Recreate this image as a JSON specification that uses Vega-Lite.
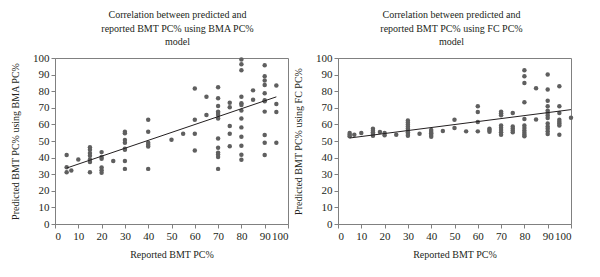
{
  "$schema": "https://vega.github.io/schema/vega-lite/v6.json",
  "padding": {"left": 9, "top": 9, "right": 5, "bottom": 5},
  "bounds": "flush",
  "spacing": 50,
  "config": {
    "font": "Liberation Serif",
    "view": {"stroke": "#808080", "strokeWidth": 1},
    "axis": {
      "grid": false,
      "labelOverlap": false,
      "domainColor": "#808080",
      "tickColor": "#808080",
      "tickSize": 4,
      "labelFont": "Liberation Serif",
      "labelFontSize": 11,
      "labelColor": "#231f20",
      "labelPadding": 2,
      "titleFont": "Liberation Serif",
      "titleFontSize": 10,
      "titleFontWeight": "normal",
      "titleColor": "#231f20"
    },
    "title": {"font": "Liberation Serif", "fontSize": 10, "fontWeight": "normal", "color": "#231f20", "lineHeight": 13.5, "offset": 5}
  },
  "datasets": {
    "bma": [
      {"reported": 5, "predicted": 41.5}, {"reported": 5, "predicted": 34.2}, {"reported": 5, "predicted": 31.2}, {"reported": 7, "predicted": 32.2},
      {"reported": 10, "predicted": 38.9},
      {"reported": 15, "predicted": 46.3}, {"reported": 15, "predicted": 44.7}, {"reported": 15, "predicted": 42.7}, {"reported": 15, "predicted": 41.1}, {"reported": 15, "predicted": 38.9}, {"reported": 15, "predicted": 37.3}, {"reported": 15, "predicted": 31.2},
      {"reported": 20, "predicted": 43.3}, {"reported": 20, "predicted": 40.3}, {"reported": 20, "predicted": 39.3}, {"reported": 20, "predicted": 34.0}, {"reported": 20, "predicted": 32.4}, {"reported": 20, "predicted": 30.8},
      {"reported": 25, "predicted": 37.9},
      {"reported": 30, "predicted": 55.6}, {"reported": 30, "predicted": 54.6}, {"reported": 30, "predicted": 50.6}, {"reported": 30, "predicted": 48.9}, {"reported": 30, "predicted": 45.3}, {"reported": 30, "predicted": 44.7}, {"reported": 30, "predicted": 37.9}, {"reported": 30, "predicted": 33.2},
      {"reported": 40, "predicted": 62.8}, {"reported": 40, "predicted": 55.6}, {"reported": 40, "predicted": 48.9}, {"reported": 40, "predicted": 47.7}, {"reported": 40, "predicted": 46.7}, {"reported": 40, "predicted": 33.2},
      {"reported": 50, "predicted": 50.8},
      {"reported": 55, "predicted": 54.4},
      {"reported": 60, "predicted": 81.6}, {"reported": 60, "predicted": 62.8}, {"reported": 60, "predicted": 54.4}, {"reported": 60, "predicted": 44.3},
      {"reported": 65, "predicted": 76.7}, {"reported": 65, "predicted": 65.7},
      {"reported": 70, "predicted": 82.4}, {"reported": 70, "predicted": 75.7}, {"reported": 70, "predicted": 71.1}, {"reported": 70, "predicted": 67.7}, {"reported": 70, "predicted": 66.9}, {"reported": 70, "predicted": 65.7}, {"reported": 70, "predicted": 63.6}, {"reported": 70, "predicted": 51.5}, {"reported": 70, "predicted": 45.9}, {"reported": 70, "predicted": 43.0}, {"reported": 70, "predicted": 41.8}, {"reported": 70, "predicted": 40.3}, {"reported": 70, "predicted": 33.2},
      {"reported": 75, "predicted": 73.1}, {"reported": 75, "predicted": 70.3}, {"reported": 75, "predicted": 59.0}, {"reported": 75, "predicted": 54.4}, {"reported": 75, "predicted": 46.9},
      {"reported": 80, "predicted": 99.1}, {"reported": 80, "predicted": 96.3}, {"reported": 80, "predicted": 92.6}, {"reported": 80, "predicted": 76.7}, {"reported": 80, "predicted": 72.7}, {"reported": 80, "predicted": 71.7}, {"reported": 80, "predicted": 68.3}, {"reported": 80, "predicted": 63.6}, {"reported": 80, "predicted": 58.2}, {"reported": 80, "predicted": 52.6}, {"reported": 80, "predicted": 47.1}, {"reported": 80, "predicted": 41.7}, {"reported": 80, "predicted": 38.7},
      {"reported": 85, "predicted": 80.5}, {"reported": 85, "predicted": 74.9},
      {"reported": 90, "predicted": 95.6}, {"reported": 90, "predicted": 89.0}, {"reported": 90, "predicted": 86.4}, {"reported": 90, "predicted": 83.8}, {"reported": 90, "predicted": 78.7}, {"reported": 90, "predicted": 74.5}, {"reported": 90, "predicted": 73.9}, {"reported": 90, "predicted": 67.7}, {"reported": 90, "predicted": 53.6}, {"reported": 90, "predicted": 48.9}, {"reported": 90, "predicted": 41.5},
      {"reported": 95, "predicted": 83.4}, {"reported": 95, "predicted": 72.3}, {"reported": 95, "predicted": 67.5}, {"reported": 95, "predicted": 48.9}
    ],
    "fc": [
      {"reported": 5, "predicted": 54.8}, {"reported": 5, "predicted": 53.8}, {"reported": 5, "predicted": 52.8}, {"reported": 7, "predicted": 53.8}, {"reported": 10, "predicted": 54.8},
      {"reported": 15, "predicted": 57.4}, {"reported": 15, "predicted": 56.2}, {"reported": 15, "predicted": 55.2}, {"reported": 15, "predicted": 54.2}, {"reported": 15, "predicted": 53.2},
      {"reported": 18, "predicted": 55.4},
      {"reported": 20, "predicted": 54.8}, {"reported": 20, "predicted": 53.4},
      {"reported": 25, "predicted": 53.8},
      {"reported": 30, "predicted": 62.4}, {"reported": 30, "predicted": 61.2}, {"reported": 30, "predicted": 60.0}, {"reported": 30, "predicted": 58.8}, {"reported": 30, "predicted": 57.6}, {"reported": 30, "predicted": 56.4}, {"reported": 30, "predicted": 55.2}, {"reported": 30, "predicted": 54.2}, {"reported": 30, "predicted": 53.2},
      {"reported": 35, "predicted": 54.4},
      {"reported": 40, "predicted": 56.6}, {"reported": 40, "predicted": 55.4}, {"reported": 40, "predicted": 54.6}, {"reported": 40, "predicted": 53.6}, {"reported": 40, "predicted": 52.6},
      {"reported": 45, "predicted": 56.0},
      {"reported": 50, "predicted": 62.8}, {"reported": 50, "predicted": 57.8},
      {"reported": 55, "predicted": 55.8},
      {"reported": 60, "predicted": 70.9}, {"reported": 60, "predicted": 67.5}, {"reported": 60, "predicted": 61.4}, {"reported": 60, "predicted": 55.8},
      {"reported": 65, "predicted": 57.4}, {"reported": 65, "predicted": 56.6}, {"reported": 65, "predicted": 55.6},
      {"reported": 70, "predicted": 67.7}, {"reported": 70, "predicted": 66.7}, {"reported": 70, "predicted": 65.5}, {"reported": 70, "predicted": 59.4}, {"reported": 70, "predicted": 58.0}, {"reported": 70, "predicted": 56.6}, {"reported": 70, "predicted": 55.2}, {"reported": 70, "predicted": 53.8},
      {"reported": 75, "predicted": 66.9}, {"reported": 75, "predicted": 58.8}, {"reported": 75, "predicted": 57.6}, {"reported": 75, "predicted": 56.4}, {"reported": 75, "predicted": 55.2},
      {"reported": 80, "predicted": 92.6}, {"reported": 80, "predicted": 89.0}, {"reported": 80, "predicted": 85.0}, {"reported": 80, "predicted": 73.3}, {"reported": 80, "predicted": 63.2}, {"reported": 80, "predicted": 59.4}, {"reported": 80, "predicted": 57.8}, {"reported": 80, "predicted": 56.4}, {"reported": 80, "predicted": 55.0}, {"reported": 80, "predicted": 53.8}, {"reported": 80, "predicted": 52.8},
      {"reported": 85, "predicted": 81.8}, {"reported": 85, "predicted": 62.9},
      {"reported": 90, "predicted": 90.0}, {"reported": 90, "predicted": 81.0}, {"reported": 90, "predicted": 74.3}, {"reported": 90, "predicted": 70.9}, {"reported": 90, "predicted": 68.3}, {"reported": 90, "predicted": 66.9}, {"reported": 90, "predicted": 65.3}, {"reported": 90, "predicted": 63.9}, {"reported": 90, "predicted": 60.5}, {"reported": 90, "predicted": 58.8}, {"reported": 90, "predicted": 57.4}, {"reported": 90, "predicted": 55.8}, {"reported": 90, "predicted": 54.2},
      {"reported": 95, "predicted": 83.0}, {"reported": 95, "predicted": 70.9}, {"reported": 95, "predicted": 66.9}, {"reported": 95, "predicted": 62.8}, {"reported": 95, "predicted": 61.6}, {"reported": 95, "predicted": 60.5}, {"reported": 95, "predicted": 59.3}, {"reported": 95, "predicted": 53.8},
      {"reported": 100, "predicted": 64.0}
    ],
    "bmaLine": [{"reported": 5, "predicted": 33.7}, {"reported": 95, "predicted": 76.6}],
    "fcLine": [{"reported": 5, "predicted": 51.8}, {"reported": 100, "predicted": 68.9}]
  },
  "hconcat": [
    {
      "width": 233,
      "height": 166,
      "title": {"text": ["Correlation between predicted and", "reported BMT PC% using BMA PC%", "model"], "dx": 6},
      "encoding": {
        "x": {"field": "reported", "type": "quantitative", "scale": {"domain": [0, 100], "nice": false}, "axis": {"title": "Reported BMT PC%", "values": [0, 10, 20, 30, 40, 50, 60, 70, 80, 90, 100], "labelOverlap": false, "titlePadding": 8}},
        "y": {"field": "predicted", "type": "quantitative", "scale": {"domain": [0, 100], "nice": false}, "axis": {"title": "Predicted BMT PC% using BMA PC%", "values": [0, 10, 20, 30, 40, 50, 60, 70, 80, 90, 100], "labelOverlap": false, "minExtent": 30, "maxExtent": 30, "titlePadding": 5}}
      },
      "layer": [
        {
          "data": {"name": "bma"},
          "mark": {"type": "circle", "size": 20, "opacity": 1, "color": "#5f5f5f"}
        },
        {
          "data": {"name": "bmaLine"},
          "mark": {"type": "line", "color": "#231f20", "strokeWidth": 1}
        }
      ]
    },
    {
      "width": 233,
      "height": 166,
      "title": {"text": ["Correlation between predicted and", "reported BMT PC% using FC PC%", "model"], "dx": -3},
      "encoding": {
        "x": {"field": "reported", "type": "quantitative", "scale": {"domain": [0, 100], "nice": false}, "axis": {"title": "Reported BMT PC%", "values": [0, 10, 20, 30, 40, 50, 60, 70, 80, 90, 100], "labelOverlap": false, "titlePadding": 8}},
        "y": {"field": "predicted", "type": "quantitative", "scale": {"domain": [0, 100], "nice": false}, "axis": {"title": "Predicted BMT PC% using FC PC%", "values": [0, 10, 20, 30, 40, 50, 60, 70, 80, 90, 100], "labelOverlap": false, "minExtent": 30, "maxExtent": 30, "titlePadding": 5}}
      },
      "layer": [
        {
          "data": {"name": "fc"},
          "mark": {"type": "circle", "size": 20, "opacity": 1, "color": "#5f5f5f"}
        },
        {
          "data": {"name": "fcLine"},
          "mark": {"type": "line", "color": "#231f20", "strokeWidth": 1}
        }
      ]
    }
  ]
}
